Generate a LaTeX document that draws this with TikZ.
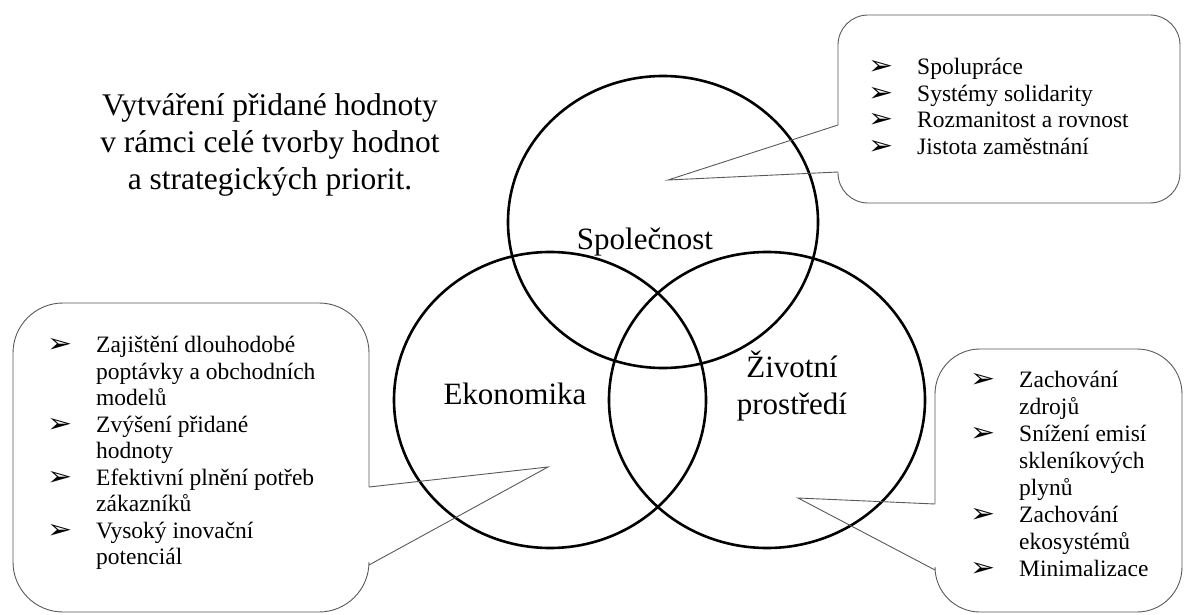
\documentclass[tikz,border=0pt]{standalone}
\usepackage{fontspec}
\setmainfont{Liberation Serif}
\newfontfamily\dingfont{DejaVu Sans}

\newcommand{\arrbullet}{{\dingfont\fontsize{24}{24}\selectfont\scalebox{1.25}[1.1]{➢}}}
\newcommand{\itm}{\makebox[49pt][l]{\arrbullet}}

\begin{document}
\begin{tikzpicture}[x=1pt,y=-1pt]
	\tikzset{
		mycircle/.style={draw=black, line width=2.6pt},
		myline/.style={draw=black!65, line width=0.9pt},
		mylabel/.style={inner sep=0pt, align=center, font=\fontsize{31}{34}\selectfont},
		mylist/.style={inner sep=0pt, anchor=north west, font=\fontsize{23.5}{26.5}\selectfont}
	}

	\useasboundingbox (0,0) rectangle (1187,615);

	% the three circles
	\draw[mycircle] (663,222) ellipse [x radius=155, y radius=146];
	\draw[mycircle] (550,400) ellipse [x radius=156, y radius=148];
	\draw[mycircle] (767,400) ellipse [x radius=158, y radius=148];

	\node[mylabel, font=\fontsize{31.5}{37}\selectfont] (title) at (270,145) {Vytváření přidané hodnoty\\v rámci celé tvorby hodnot\\a strategických priorit.};

	\node[mylabel] (soc) at (645,242) {Společnost};
	\node[mylabel] (eko) at (515,394) {Ekonomika};
	\node[mylabel, font=\fontsize{31}{37}\selectfont] (ziv) at (792,386) {Životní\\prostředí};

	% callout tips
	\coordinate (soctip) at (668,180);
	\coordinate (ekotip) at (548,467);
	\coordinate (zivtip) at (798,498);

	% Spolecnost callout
	\coordinate (soca) at (838,125);
	\coordinate (socb) at (838,172);
	\draw[myline, rounded corners=30pt] (socb) -- (838,203) -- (1180,203) -- (1180,15) -- (838,15) -- (soca);
	\draw[myline] (soca) -- (soctip) -- (socb);
	\node[mylist] (soclist) at (868,56) {\begin{tabular}{@{}l@{}l@{}}
		\itm & Spolupráce\\
		\itm & Systémy solidarity\\
		\itm & Rozmanitost a rovnost\\
		\itm & Jistota zaměstnání
	\end{tabular}};

	% Ekonomika callout
	\coordinate (ekoa) at (369,487);
	\coordinate (ekob) at (369,565);
	\draw[myline, rounded corners=50pt] (ekoa) -- (369,303) -- (13,303) -- (13,612) -- (369,612) -- (ekob);
	\draw[myline] (ekoa) -- (ekotip) -- (ekob);
	\node[mylist] (ekolist) at (47,334) {\begin{tabular}{@{}l@{}l@{}}
		\itm & Zajištění dlouhodobé\\
		     & poptávky a obchodních\\
		     & modelů\\
		\itm & Zvýšení přidané\\
		     & hodnoty\\
		\itm & Efektivní plnění potřeb\\
		     & zákazníků\\
		\itm & Vysoký inovační\\
		     & potenciál
	\end{tabular}};

	% Zivotni prostredi callout
	\coordinate (ziva) at (935,504);
	\coordinate (zivb) at (935,570);
	\draw[myline, rounded corners=45pt] (ziva) -- (935,349) -- (1182,349) -- (1182,612) -- (935,612) -- (zivb);
	\draw[myline] (ziva) -- (zivtip) -- (zivb);
	\node[mylist, font=\fontsize{23.5}{27}\selectfont] (zivlist) at (970,368) {\begin{tabular}{@{}l@{}l@{}}
		\itm & Zachování\\
		     & zdrojů\\
		\itm & Snížení emisí\\
		     & skleníkových\\
		     & plynů\\
		\itm & Zachování\\
		     & ekosystémů\\
		\itm & Minimalizace
	\end{tabular}};
\end{tikzpicture}
\end{document}
